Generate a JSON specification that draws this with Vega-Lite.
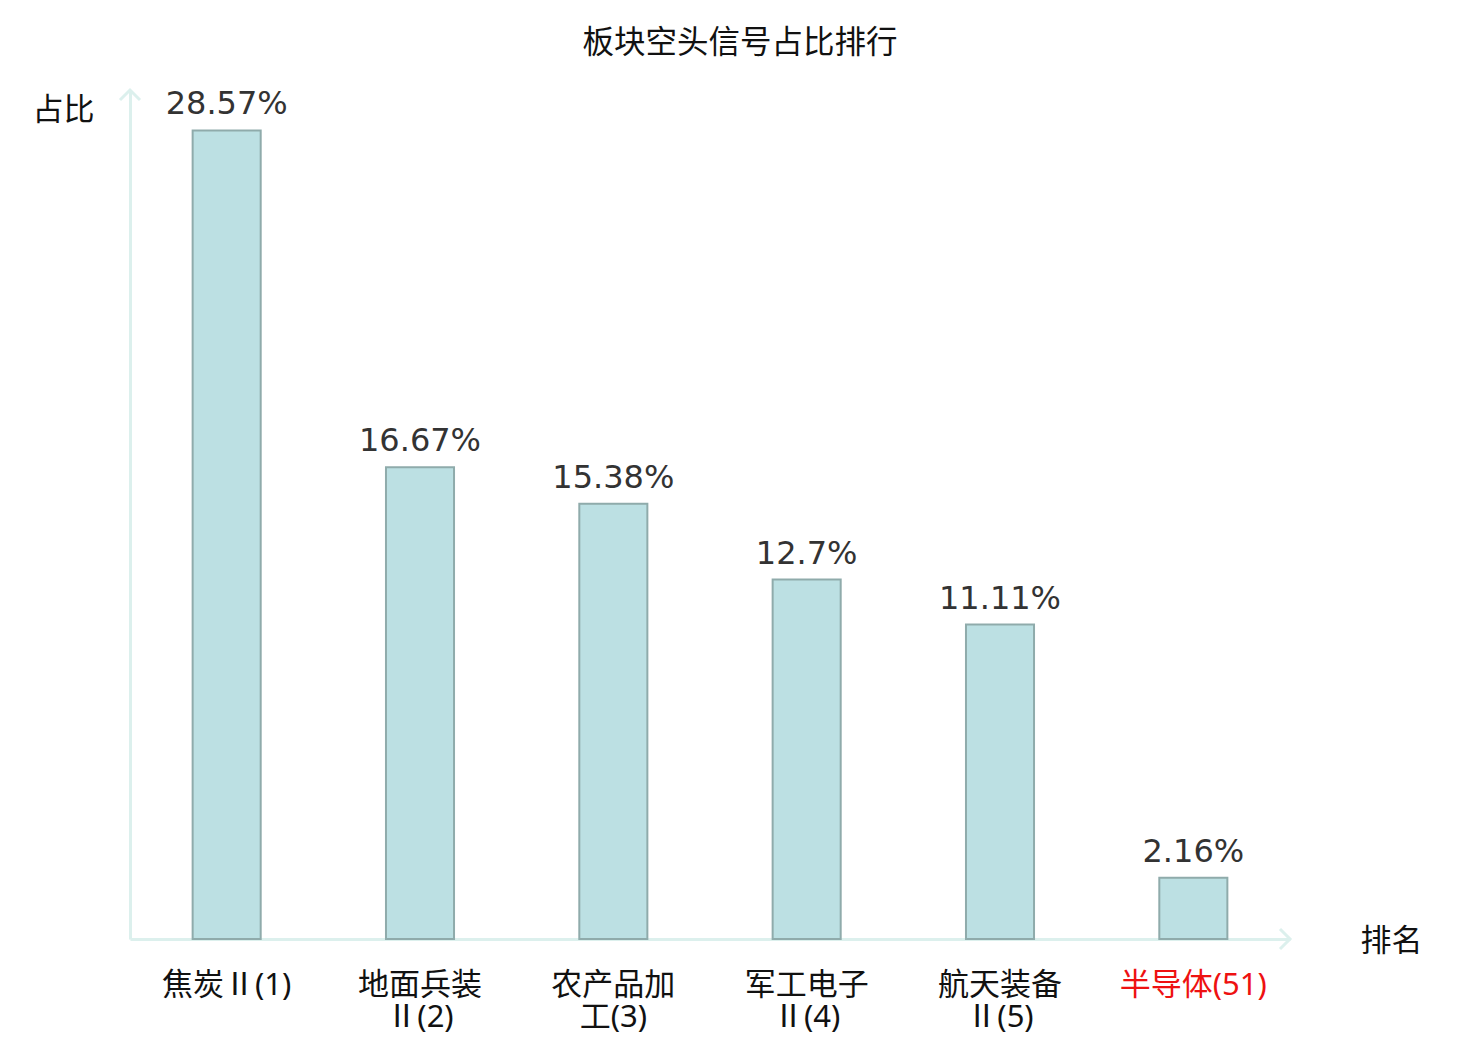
{
  "$schema": "https://vega.github.io/schema/vega-lite/v6.json",
  "autosize": "none",
  "width": 1160,
  "height": 849,
  "padding": {"left": 130, "top": 90, "right": 190, "bottom": 101},
  "background": "white",
  "title": {
    "text": "板块空头信号占比排行",
    "font": "Noto Sans CJK SC",
    "fontSize": 31.5,
    "fontWeight": "normal",
    "color": "#111111",
    "anchor": "middle",
    "dx": 30,
    "offset": -7,
    "baseline": "bottom"
  },
  "data": {
    "values": [
      {"sector": "焦炭Ⅱ(1)", "pct": 28.57, "label": "28.57%"},
      {"sector": "地面兵装\nⅡ(2)", "pct": 16.67, "label": "16.67%"},
      {"sector": "农产品加\n工(3)", "pct": 15.38, "label": "15.38%"},
      {"sector": "军工电子\nⅡ(4)", "pct": 12.7, "label": "12.7%"},
      {"sector": "航天装备\nⅡ(5)", "pct": 11.11, "label": "11.11%"},
      {"sector": "半导体(51)", "pct": 2.16, "label": "2.16%"}
    ]
  },
  "config": {"view": {"stroke": null}},
  "layer": [
    {
      "mark": {"type": "bar", "fill": "#bce0e3", "stroke": "#8fabab", "strokeWidth": 2},
      "encoding": {
        "x": {
          "field": "sector",
          "type": "nominal",
          "sort": null,
          "scale": {"paddingInner": 0.648, "paddingOuter": 0.324},
          "axis": {
            "title": "排名",
            "titleFont": "Noto Sans CJK SC",
            "titleFontSize": 31,
            "titleFontWeight": "normal",
            "titleColor": "#111111",
            "titleX": 1261,
            "titleY": 2,
            "titleAlign": "center",
            "titleBaseline": "middle",
            "labelAngle": 0,
            "labelFont": "Noto Sans, Noto Sans CJK SC",
            "labelFontSize": 31,
            "labelLineHeight": 32,
            "labelPadding": 31,
            "labelExpr": "split(datum.label, '\\n')",
            "labelColor": {"condition": {"test": "indexof(datum.label, '半导体') >= 0", "value": "#ee1111"}, "value": "#111111"},
            "ticks": false,
            "domainColor": "#dcf0ed",
            "domainWidth": 3,
            "grid": false
          }
        },
        "y": {
          "field": "pct",
          "type": "quantitative",
          "scale": {"domain": [0, 30]},
          "axis": {
            "title": "占比",
            "titleFont": "Noto Sans CJK SC",
            "titleFontSize": 31,
            "titleFontWeight": "normal",
            "titleColor": "#111111",
            "titleAngle": 0,
            "titleX": -67,
            "titleY": 20,
            "titleAlign": "center",
            "titleBaseline": "middle",
            "labels": false,
            "ticks": false,
            "grid": false,
            "domainColor": "#dcf0ed",
            "domainWidth": 3
          }
        }
      }
    },
    {
      "mark": {"type": "text", "font": "DejaVu Sans", "fontSize": 32, "color": "#333333", "baseline": "alphabetic", "dy": -16},
      "encoding": {
        "x": {"field": "sector", "type": "nominal", "sort": null},
        "y": {"field": "pct", "type": "quantitative"},
        "text": {"field": "label"}
      }
    },
    {
      "data": {"values": [{"axis": "y"}]},
      "mark": {"type": "point", "shape": "M-1,1L0,0L1,1", "size": 400, "filled": false, "stroke": "#dcf0ed", "strokeWidth": 3, "opacity": 1},
      "encoding": {
        "x": {"value": 0},
        "y": {"value": 0}
      }
    },
    {
      "data": {"values": [{"axis": "x"}]},
      "mark": {"type": "point", "shape": "M-1,-1L0,0L-1,1", "size": 400, "filled": false, "stroke": "#dcf0ed", "strokeWidth": 3, "opacity": 1},
      "encoding": {
        "x": {"value": 1160},
        "y": {"value": 849}
      }
    }
  ]
}
